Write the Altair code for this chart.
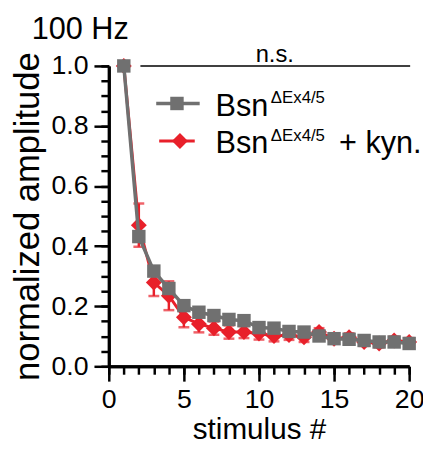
import altair as alt
import pandas as pd

# ---- data ----
stimulus = list(range(1, 21))
bsn = [1.0, 0.432, 0.317, 0.259, 0.202, 0.180, 0.169, 0.156, 0.152, 0.129,
       0.127, 0.116, 0.114, 0.101, 0.092, 0.090, 0.086, 0.081, 0.081, 0.076]
bsn_kyn = [1.0, 0.470, 0.279, 0.235, 0.163, 0.141, 0.127, 0.114, 0.114, 0.109,
           0.101, 0.104, 0.097, 0.114, 0.092, 0.097, 0.081, 0.076, 0.086, 0.081]
bsn_kyn_sem = [0.0, 0.072, 0.045, 0.048, 0.033, 0.028, 0.022, 0.022, 0.020, 0.020,
               0.018, 0.016, 0.016, 0.013, 0.013, 0.013, 0.013, 0.013, 0.013, 0.013]

x_major = [0, 5, 10, 15, 20]
x_minor = list(range(0, 21))
y_major = [0.0, 0.2, 0.4, 0.6, 0.8, 1.0]
y_minor = [round(i * 0.05, 2) for i in range(0, 21)]

title_text = "100 Hz"
sig_text = "n.s."
legend_main = ["Bsn", "Bsn"]
legend_sup = ["\u0394Ex4/5", "\u0394Ex4/5"]
legend_tail = "+ kyn."

GRAY = "#707070"
RED = "#e8202a"
FONT = "Liberation Sans"

df = pd.DataFrame({
    "stim": stimulus,
    "gray": bsn,
    "red": bsn_kyn,
    "red_lo": [m - s for m, s in zip(bsn_kyn, bsn_kyn_sem)],
    "red_hi": [m + s for m, s in zip(bsn_kyn, bsn_kyn_sem)],
})

xs = alt.Scale(domain=[0, 20], nice=False, zero=False)
ys = alt.Scale(domain=[0, 1], nice=False, zero=False)

base = alt.Chart(df)

x_main_axis = alt.Axis(values=x_major, tickSize=15, labelPadding=6, labelFlush=False,
                       title="stimulus #", titlePadding=2, titleFontSize=30, orient="bottom")
y_main_axis = alt.Axis(values=y_major, tickSize=15, labelPadding=6, labelFlush=False,
                       format=".1f", title="normalized amplitude", titlePadding=6,
                       titleFontSize=35, orient="left")
x_minor_axis = alt.Axis(values=x_minor, tickSize=8, labels=False, title=None, orient="bottom")
y_minor_axis = alt.Axis(values=y_minor, tickSize=8, labels=False, title=None, orient="left")

axes_main = base.mark_line(opacity=0).encode(
    x=alt.X("stim:Q", scale=xs, axis=x_main_axis),
    y=alt.Y("gray:Q", scale=ys, axis=y_main_axis),
)
axes_minor = base.mark_line(opacity=0).encode(
    x=alt.X("stim:Q", scale=xs, axis=x_minor_axis),
    y=alt.Y("gray:Q", scale=ys, axis=y_minor_axis),
)

X = alt.X("stim:Q", scale=xs, axis=None)

red_err = base.mark_errorbar(ticks=True, color=RED, thickness=2.5, size=11).encode(
    x=X,
    y=alt.Y("red_lo:Q", scale=ys, axis=None),
    y2="red_hi:Q",
)
red_line = base.mark_line(color=RED, strokeWidth=3).encode(
    x=X, y=alt.Y("red:Q", scale=ys, axis=None))
red_pts = base.mark_point(shape="diamond", filled=True, size=260, color=RED, opacity=1).encode(
    x=X, y=alt.Y("red:Q", scale=ys, axis=None))
gray_line = base.mark_line(color=GRAY, strokeWidth=3.5).encode(
    x=X, y=alt.Y("gray:Q", scale=ys, axis=None))
gray_pts = base.mark_point(shape="square", filled=True, size=185, color=GRAY, opacity=1).encode(
    x=X, y=alt.Y("gray:Q", scale=ys, axis=None))

one = alt.Chart(pd.DataFrame({"k": [0]}))

def txt(s, x, y, size, align="left"):
    return one.mark_text(text=s, font=FONT, fontSize=size, align=align,
                         baseline="alphabetic", color="black").encode(
        x=alt.value(x), y=alt.value(y))

title = txt(title_text, -78, -27, 31)
sig = txt(sig_text, 168, -4, 24, align="center")
sig_rule = one.mark_rule(color="black", strokeWidth=1.5).encode(
    x=alt.value(32), x2=alt.value(305), y=alt.value(0))

# legend
leg_gray_line = one.mark_rule(color=GRAY, strokeWidth=3.5).encode(
    x=alt.value(48), x2=alt.value(92), y=alt.value(38))
leg_gray_pt = one.mark_point(shape="square", filled=True, size=185, color=GRAY, opacity=1).encode(
    x=alt.value(69), y=alt.value(38))
leg_red_line = one.mark_rule(color=RED, strokeWidth=3).encode(
    x=alt.value(51), x2=alt.value(87), y=alt.value(76))
leg_red_pt = one.mark_point(shape="diamond", filled=True, size=260, color=RED, opacity=1).encode(
    x=alt.value(72), y=alt.value(76))
leg_t1 = txt(legend_main[0], 108, 51, 31)
leg_s1 = txt(legend_sup[0], 164, 38, 17)
leg_t2 = txt(legend_main[1], 108, 88, 31)
leg_s2 = txt(legend_sup[1], 164, 76, 17)
leg_t3 = txt(legend_tail, 233, 88, 31)

chart = alt.layer(
    axes_main, axes_minor,
    red_err, red_line, red_pts, gray_line, gray_pts,
    sig_rule, sig, title,
    leg_gray_line, leg_gray_pt, leg_red_line, leg_red_pt,
    leg_t1, leg_s1, leg_t2, leg_s2, leg_t3,
).resolve_axis(x="independent", y="independent").properties(
    width=304, height=304,
    autosize=alt.AutoSizeParams(type="none"),
    padding={"left": 102, "top": 56, "right": 14, "bottom": 76},
).configure_view(stroke=None).configure_axis(
    domainColor="black", domainWidth=3, tickColor="black", tickWidth=2.5,
    labelFont=FONT, labelFontSize=27, labelColor="black",
    titleFont=FONT, titleFontSize=30, titleFontWeight="normal", titleColor="black",
    grid=False,
)

chart.save("out.html", embed_options={"renderer": "svg", "actions": False})
